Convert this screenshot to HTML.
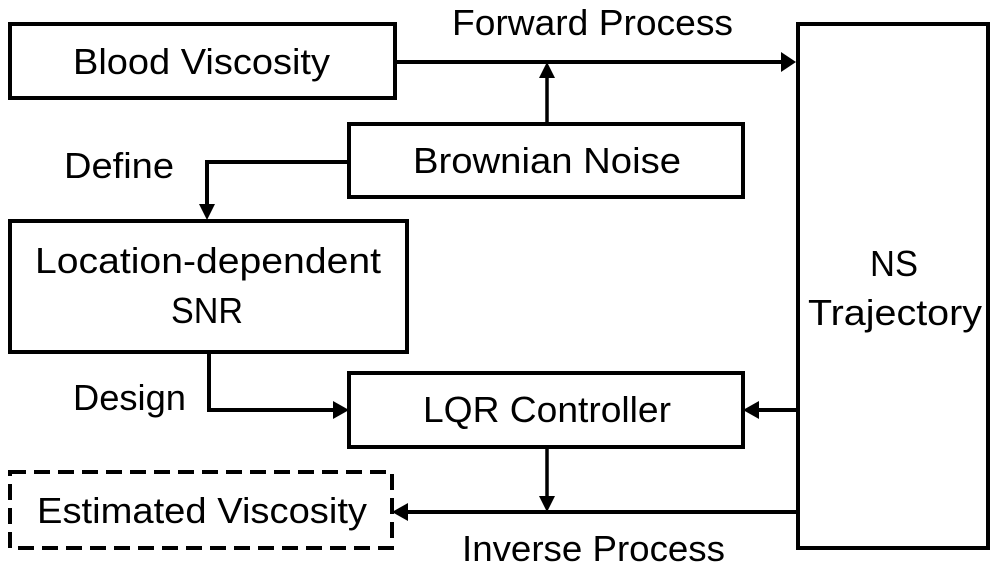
<!DOCTYPE html>
<html><head><style>
html,body{margin:0;padding:0;background:#fff;}
svg text{font-family:"Liberation Sans",sans-serif;font-size:36px;fill:#000;}
</style></head><body>
<svg width="1007" height="572" viewBox="0 0 1007 572" xmlns="http://www.w3.org/2000/svg">
<g fill="none" stroke="#000" stroke-width="4">
<rect x="10" y="24" width="385" height="74"/>
<rect x="349" y="124" width="394" height="73"/>
<rect x="10" y="221" width="397" height="131"/>
<rect x="798" y="24" width="190" height="524"/>
<rect x="349" y="373" width="394" height="74"/>
<rect x="10" y="472" width="382" height="76" stroke-dasharray="16,8"/>
<path d="M395 62 H782"/>
<path d="M547 124 V76" stroke-width="3.5"/>
<path d="M349 162 H207 V205"/>
<path d="M209 352 V410 H334"/>
<path d="M798 410 H758"/>
<path d="M547 447 V497" stroke-width="3.5"/>
<path d="M798 512 H406"/>
</g>
<g fill="#000">
<polygon points="796,62 781,52 781,72"/>
<polygon points="547,62 539,78 555,78"/>
<polygon points="207,220 199,204 215,204"/>
<polygon points="349,410 333,401 333,419"/>
<polygon points="743,410 759,401 759,419"/>
<polygon points="547,512 539,496 555,496"/>
<polygon points="392,512 408,503 408,521"/>
</g>
<text x="73" y="74" textLength="257" lengthAdjust="spacingAndGlyphs">Blood Viscosity</text>
<text x="452" y="35" textLength="281" lengthAdjust="spacingAndGlyphs">Forward Process</text>
<text x="413" y="173" textLength="268" lengthAdjust="spacingAndGlyphs">Brownian Noise</text>
<text x="64" y="178" textLength="110" lengthAdjust="spacingAndGlyphs">Define</text>
<text x="35" y="273" textLength="346" lengthAdjust="spacingAndGlyphs">Location-dependent</text>
<text x="171" y="323" textLength="72" lengthAdjust="spacingAndGlyphs">SNR</text>
<text x="73" y="410" textLength="113" lengthAdjust="spacingAndGlyphs">Design</text>
<text x="423" y="422" textLength="248" lengthAdjust="spacingAndGlyphs">LQR Controller</text>
<text x="37" y="523" textLength="330" lengthAdjust="spacingAndGlyphs">Estimated Viscosity</text>
<text x="462" y="561" textLength="263" lengthAdjust="spacingAndGlyphs">Inverse Process</text>
<text x="870" y="276" textLength="48" lengthAdjust="spacingAndGlyphs">NS</text>
<text x="808" y="325" textLength="174" lengthAdjust="spacingAndGlyphs">Trajectory</text>
</svg>
</body></html>
